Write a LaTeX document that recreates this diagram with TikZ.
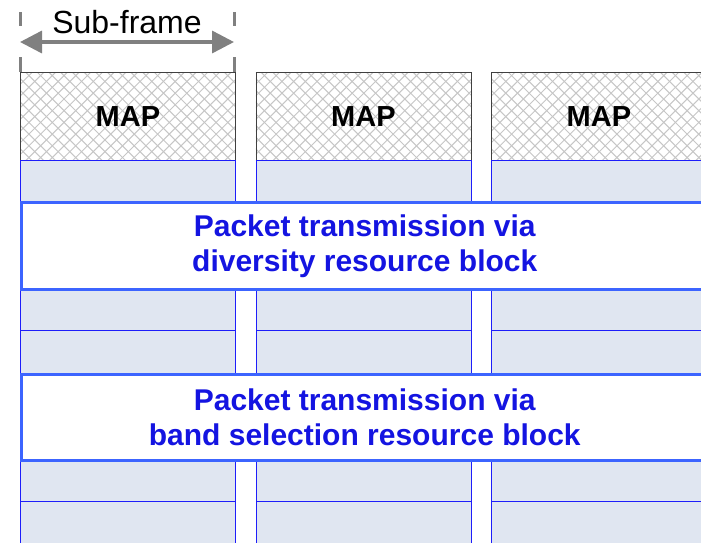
\documentclass[tikz,border=0pt]{standalone}
\usepackage{fontspec}
\setmainfont{Liberation Sans}
\usetikzlibrary{arrows.meta,calc}
\definecolor{cellfill}{RGB}{224,230,241}
\definecolor{cellline}{RGB}{30,30,250}
\definecolor{bandline}{RGB}{60,100,255}
\definecolor{bandtext}{RGB}{20,20,225}

\begin{document}
\begin{tikzpicture}[x=1pt, y=-1pt,
  hatch/.style={draw=gray!45, line width=1pt},
  mapbox/.style={draw=black!75, line width=0.8pt, anchor=north west, inner sep=0pt,
    minimum width=215pt, minimum height=88pt, font=\fontsize{29}{35}\selectfont\bfseries,
    path picture={
      \foreach \k in {0,...,29} {
        \draw[hatch] ($(path picture bounding box.north west)+(\k*11.7-100,0)$) -- ++(100,100);
        \draw[hatch] ($(path picture bounding box.north west)+(\k*11.7,0)$) -- ++(-100,100);
      }}},
  cell/.style={draw=cellline, line width=1.1pt, fill=cellfill, anchor=north west,
    inner sep=0pt, minimum width=215pt},
  band/.style={draw=bandline, line width=2.5pt, fill=white, anchor=north west,
    inner sep=0pt, minimum width=687pt, align=center, text=bandtext,
    font=\fontsize{30}{35}\selectfont\bfseries},
  tick/.style={draw=gray, line width=3pt},
  span/.style={draw=gray, line width=3.5pt,
    {Triangle[length=22pt,width=22pt]}-{Triangle[length=22pt,width=22pt]}},
]
\useasboundingbox (0,0) rectangle (701,542);
\clip (0,0) rectangle (701,542);

% sub-frame marker
\coordinate (sl) at (20,42);
\coordinate (sr) at (234,42);
\draw[tick] (20,12) -- (20,26);
\draw[tick] (20,57) -- (20,72);
\draw[tick] (234,12) -- (234,26);
\draw[tick] (234,57) -- (234,72);
\draw[span] (sl) -- (sr);
\node[font=\fontsize{32}{32}\selectfont, anchor=base] (sublbl) at (127,33) {Sub-frame};

% MAP regions
\node[mapbox] (map1) at (20,72) {MAP};
\node[mapbox] (map2) at (255.5,72) {MAP};
\node[mapbox] (map3) at (491,72) {MAP};

% resource cells per sub-frame
\foreach \c/\x in {1/20, 2/255.5, 3/491} {
  \node[cell, minimum height=41pt] (ctl\c) at (\x,160) {};
  \node[cell, minimum height=42pt] (ra\c) at (\x,288) {};
  \node[cell, minimum height=43pt] (rb\c) at (\x,330) {};
  \node[cell, minimum height=42pt] (rc\c) at (\x,459) {};
  \node[cell, minimum height=44pt] (rd\c) at (\x,501) {};
}

% resource blocks across sub-frames
\node[band, minimum height=87pt] (div) at (20,201)
  {Packet transmission via\\diversity resource block};
\node[band, minimum height=86pt] (sel) at (20,373)
  {Packet transmission via\\band selection resource block};
\end{tikzpicture}
\end{document}
